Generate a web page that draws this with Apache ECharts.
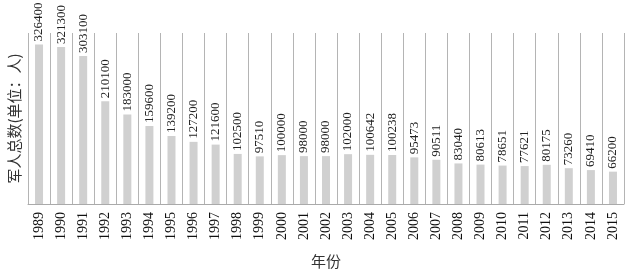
<!DOCTYPE html>
<html>
<head>
<meta charset="utf-8">
<script src="https://cdn.jsdelivr.net/npm/echarts@6/dist/echarts.min.js"></script>
<style>html,body{margin:0;padding:0;background:#fff;}#c{width:625px;height:271px;}</style>
</head>
<body>
<div id="c"></div>
<script>
const years = ['1989','1990','1991','1992','1993','1994','1995','1996','1997','1998','1999','2000','2001','2002','2003','2004','2005','2006','2007','2008','2009','2010','2011','2012','2013','2014','2015'];
const troops = [326400,321300,303100,210100,183000,159600,139200,127200,121600,102500,97510,100000,98000,98000,102000,100642,100238,95473,90511,83040,80613,78651,77621,80175,73260,69410,66200];
const xTitle = '年份';
const yTitle = '军人总数(单位：人)';

const numFont = 'Liberation Serif';
const cjkFont = 'Noto Sans CJK SC';
const chart = echarts.init(document.getElementById('c'), null, {renderer: 'canvas'});
chart.setOption({
  animation: false,
  backgroundColor: '#fff',
  grid: {left: 28, right: 1, top: 33, bottom: 67, containLabel: false, outerBoundsMode: 'none'},
  xAxis: {
    type: 'category',
    data: years,
    name: xTitle,
    nameLocation: 'middle',
    nameGap: 50,
    nameTextStyle: {fontFamily: cjkFont, fontSize: 15, color: '#333'},
    axisLine: {lineStyle: {color: '#aaa', width: 1}},
    axisTick: {show: false},
    axisLabel: {rotate: 90, margin: 8, fontFamily: numFont, fontSize: 14, color: '#111', interval: 0},
    splitLine: {show: true, interval: 0, lineStyle: {color: '#b4b4b4', width: 1}}
  },
  yAxis: {
    type: 'value',
    min: 0,
    max: 350000,
    name: yTitle,
    nameLocation: 'middle',
    nameRotate: 90,
    nameGap: 6,
    nameTextStyle: {fontFamily: cjkFont, fontSize: 15, color: '#333'},
    axisLine: {show: false},
    axisTick: {show: false},
    axisLabel: {show: false},
    splitLine: {show: false}
  },
  series: [{
    type: 'bar',
    data: troops,
    barWidth: 8,
    itemStyle: {color: '#d0d0d0'},
    label: {
      show: true,
      position: 'top',
      rotate: 90,
      align: 'left',
      verticalAlign: 'middle',
      distance: 3,
      fontFamily: numFont,
      fontSize: 13,
      color: '#222'
    }
  }]
});
</script>
</body>
</html>
